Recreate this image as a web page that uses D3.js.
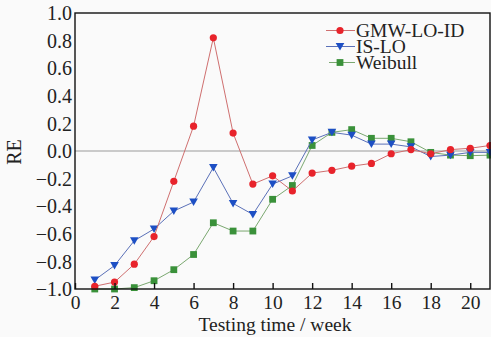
<!DOCTYPE html>
<html><head><meta charset="utf-8">
<script src="https://cdn.jsdelivr.net/npm/d3@7"></script>
<style>html,body{margin:0;padding:0;background:#fafafa;}svg{display:block;}
text{font-family:"Liberation Serif","Times New Roman",Times,serif;}</style>
</head><body>
<script>
const weeks = [1,2,3,4,5,6,7,8,9,10,11,12,13,14,15,16,17,18,19,20,21];
const gmwLoId = [-0.98,-0.95,-0.82,-0.62,-0.22,0.18,0.82,0.13,-0.24,-0.18,-0.29,-0.16,-0.14,-0.11,-0.09,-0.02,0.01,-0.02,0.01,0.02,0.04];
const isLo = [-0.935,-0.83,-0.65,-0.565,-0.435,-0.37,-0.12,-0.38,-0.46,-0.24,-0.18,0.08,0.135,0.115,0.05,0.05,0.03,-0.04,-0.03,-0.01,-0.01];
const weibull = [-1.0,-1.0,-0.99,-0.94,-0.86,-0.75,-0.52,-0.58,-0.58,-0.35,-0.25,0.04,0.135,0.155,0.092,0.092,0.067,-0.01,-0.03,-0.034,-0.03];
const xTicks = [0,2,4,6,8,10,12,14,16,18,20];
const yTicks = [-1.0,-0.8,-0.6,-0.4,-0.2,0.0,0.2,0.4,0.6,0.8,1.0];
const seriesNames = ["GMW-LO-ID","IS-LO","Weibull"];

const W = 491, H = 337;
const m = {left:75, right:1, top:13, bottom:48};
const svg = d3.select("body").append("svg").attr("width",W).attr("height",H);
const x = d3.scaleLinear().domain([0,21]).range([m.left, W-m.right]);
const y = d3.scaleLinear().domain([-1,1]).range([H-m.bottom, m.top]);
const fs = 20;

// zero line
svg.append("line").attr("x1",x(0)).attr("x2",x(21)).attr("y1",y(0)).attr("y2",y(0))
  .attr("stroke","#9a9a9a").attr("stroke-width",1.2);

const series = [
  {name:seriesNames[0], vals:gmwLoId, line:"#cf6f6f", fill:"#e8232b", shape:"circle"},
  {name:seriesNames[1], vals:isLo, line:"#5a70b8", fill:"#1d4fc4", shape:"tri"},
  {name:seriesNames[2], vals:weibull, line:"#7aa870", fill:"#3a913a", shape:"square"}
];

function drawMarker(g, shape, cx, cy, fill){
  if(shape==="circle") g.append("circle").attr("cx",cx).attr("cy",cy).attr("r",3.6).attr("fill",fill);
  else if(shape==="tri") g.append("path").attr("d",`M${cx-4.3},${cy-3.5}L${cx+4.3},${cy-3.5}L${cx},${cy+4}Z`).attr("fill",fill);
  else g.append("rect").attr("x",cx-3.4).attr("y",cy-3.4).attr("width",6.8).attr("height",6.8).attr("fill",fill);
}

[series[2], series[1], series[0]].forEach(s=>{
  const line = d3.line().x((d,i)=>x(weeks[i])).y(d=>y(d));
  svg.append("path").datum(s.vals).attr("d",line).attr("fill","none")
    .attr("stroke",s.line).attr("stroke-width",1);
  const g = svg.append("g");
  s.vals.forEach((v,i)=>drawMarker(g, s.shape, x(weeks[i]), y(v), s.fill));
});

// frame
svg.append("rect").attr("x",x(0)).attr("y",y(1)).attr("width",x(21)-x(0)).attr("height",y(-1)-y(1))
  .attr("fill","none").attr("stroke","#111").attr("stroke-width",1.4);

// x axis
const xAxis = svg.append("g").attr("transform",`translate(0,${y(-1)})`)
  .call(d3.axisBottom(x).tickValues(xTicks).tickSizeInner(-6).tickSizeOuter(0).tickPadding(3).tickFormat(d3.format("d")));
xAxis.select(".domain").remove();
xAxis.selectAll("line").attr("stroke","#111").attr("stroke-width",1.4);
xAxis.selectAll("text").attr("font-size",19.5).attr("fill","#222").attr("dy","0.88em");

// y axis
const yAxis = svg.append("g").attr("transform",`translate(${x(0)},0)`)
  .call(d3.axisLeft(y).tickValues(yTicks).tickSize(0).tickPadding(3)
    .tickFormat(d => (d<0 ? "\u2212" : "") + d3.format(".1f")(Math.abs(d))));
yAxis.select(".domain").remove();
yAxis.selectAll("text").attr("font-size",fs).attr("fill","#222").attr("dy","0.33em");
svg.selectAll("g").attr("font-family",null);

// axis titles
svg.append("text").attr("x",275).attr("y",331).attr("text-anchor","middle")
  .attr("font-size",19.5).attr("fill","#222").text("Testing time / week");
svg.append("text").attr("transform","translate(21,152) rotate(-90)").attr("text-anchor","middle")
  .attr("font-size",fs).attr("fill","#222").text("RE");

// legend
const leg = svg.append("g");
series.forEach((s,i)=>{
  const by = 37 + i*16;
  const cy = by - 6.5;
  leg.append("line").attr("x1", i===2?329:326).attr("x2",355).attr("y1",cy).attr("y2",cy)
    .attr("stroke",s.line).attr("stroke-width",1);
  drawMarker(leg, s.shape, 340, cy, s.fill);
  leg.append("text").attr("x",356).attr("y",by).attr("font-size",19.5)
    .attr("fill","#222").text(s.name);
});
</script>
</body></html>
